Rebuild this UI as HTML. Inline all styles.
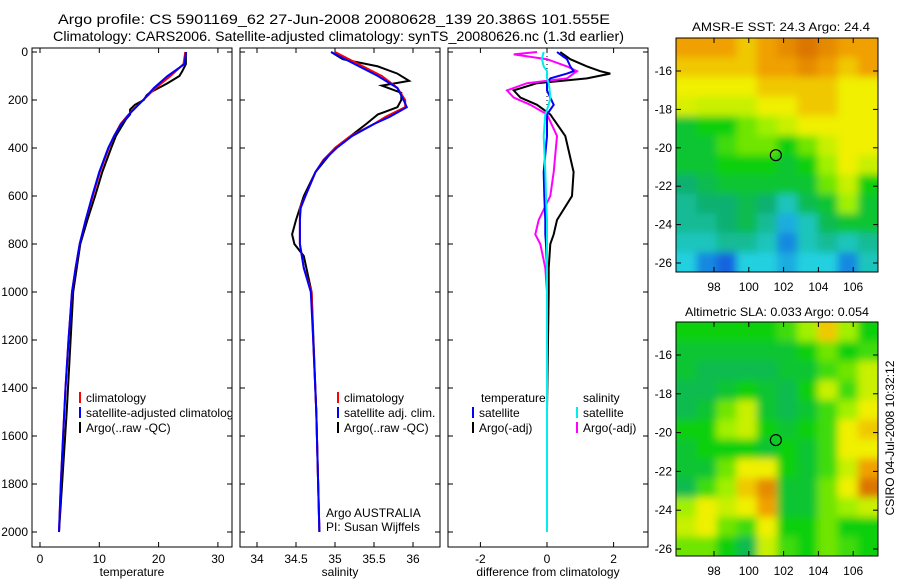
<!DOCTYPE html>
<html><head><meta charset="utf-8"><style>
body{margin:0;background:#fff}
svg{display:block;font-family:"Liberation Sans",sans-serif;font-size:12px}
</style></head><body>
<svg id="s" width="900" height="580" viewBox="0 0 900 580">
<defs>
<clipPath id="c1"><rect x="32" y="48" width="200" height="499"/></clipPath>
<clipPath id="c2"><rect x="240" y="48" width="200" height="499"/></clipPath>
<clipPath id="c3"><rect x="448" y="48" width="200" height="499"/></clipPath>
<clipPath id="m1"><rect x="676" y="38" width="202" height="234"/></clipPath>
<clipPath id="m2"><rect x="676" y="322" width="202" height="234"/></clipPath>
<filter id="bl" filterUnits="userSpaceOnUse" x="640" y="0" width="260" height="580"><feGaussianBlur stdDeviation="4"/></filter>
</defs>
<text x="58" y="24" textLength="552" lengthAdjust="spacingAndGlyphs" style="font-size:14px">Argo profile: CS 5901169_62 27-Jun-2008 20080628_139 20.386S 101.555E</text>
<text x="53" y="41" textLength="571" lengthAdjust="spacingAndGlyphs" style="font-size:14px">Climatology: CARS2006. Satellite-adjusted climatology: synTS_20080626.nc (1.3d earlier)</text>
<g id="g"></g>
<text x="692" y="31" textLength="178" lengthAdjust="spacingAndGlyphs">AMSR-E SST: 24.3 Argo: 24.4</text>
<text x="685" y="316" textLength="184" lengthAdjust="spacingAndGlyphs">Altimetric SLA: 0.033 Argo: 0.054</text>
<text transform="translate(894,438) rotate(-90)" text-anchor="middle">CSIRO 04-Jul-2008 10:32:12</text>
</svg>
<script>
// ---- data ----
const depthClim = [0,50,100,150,200,250,300,350,400,500,600,700,800,900,1000,1200,1400,1600,1800,2000];
const tempClim = [24.5,24.2,22,19.5,17.4,15.3,13.6,12.5,11.6,10.1,8.9,7.7,6.7,6.0,5.4,4.8,4.3,3.9,3.5,3.2];
const tempSat  = [24.6,24.4,21.5,19.2,17.4,15.4,13.7,12.5,11.5,10.0,8.8,7.7,6.7,6.0,5.4,4.8,4.3,3.9,3.5,3.2];
const depthArgoT = [0,50,80,100,130,150,170,180,200,220,240,260,280,350,400,500,600,700,800,1000,1500,2000];
const tempArgo = [24.6,24.6,24,23.5,21.5,20,18.5,18,17.5,16,15.2,15.2,14.5,12.8,12,10.5,9.3,8,6.8,5.6,4.5,3.2];
const depthSal = [0,100,150,200,230,270,300,350,400,450,500,600,650,700,800,900,1000,1200,1500,2000];
const salClim = [35.0,35.6,35.8,35.9,35.9,35.65,35.5,35.2,35.0,34.85,34.75,34.62,34.55,34.55,34.55,34.6,34.7,34.72,34.76,34.8];
const salSat  = [34.95,35.55,35.8,35.88,35.92,35.7,35.5,35.22,35.02,34.86,34.75,34.62,34.56,34.55,34.55,34.6,34.69,34.72,34.76,34.8];
const depthArgoS = [0,30,60,90,120,140,170,200,230,260,300,350,400,500,600,700,760,800,850,1000,1500,2000];
const salArgo = [34.95,35.1,35.55,35.8,35.95,35.6,35.85,35.85,35.8,35.55,35.4,35.2,35.0,34.75,34.6,34.5,34.45,34.48,34.6,34.7,34.76,34.8];
const depthDiff = [0,10,30,60,80,90,110,130,160,190,220,260,350,500,600,700,760,800,900,1000,1500,2000];
const diffTArgo = [0.4,0.5,0.7,1.2,1.6,1.9,1.2,-0.3,-1.0,-0.8,-0.3,0.1,0.55,0.8,0.75,0.3,0.2,0.1,0.05,0.05,0,0];
const diffSArgo = [-0.3,-1.0,0,0.6,0.9,0.8,0.6,-0.6,-1.2,-1.0,-0.5,0,0.3,0.2,0.1,-0.25,-0.35,-0.2,-0.05,0,0,0];
const diffTSat  = [0.3,0.4,0.6,0.7,0.8,0.6,0.1,0,0,0.1,0.2,0,0,-0.1,-0.08,-0.05,-0.05,-0.03,0,0,0,0];
const diffSSat  = [-0.1,-0.12,-0.15,-0.1,0,0,0,0.05,0.08,0.1,0.05,-0.05,-0.1,-0.05,-0.03,0,0,0,0,0,0,0];
const depthTicks = [0,200,400,600,800,1000,1200,1400,1600,1800,2000];
const tempTicks = [0,10,20,30];
const salTicks = [34,34.5,35,35.5,36];
const diffTicks = [-2,0,2];
const lonTicks = [98,100,102,104,106];
const latTicks = [-16,-18,-20,-22,-24,-26];
const sstGrid = [
[.85,.85,.85,.8,.85,.9,.95,.9,.85,.85],
[.8,.8,.8,.8,.85,.85,.9,.85,.8,.85],
[.75,.75,.75,.75,.8,.8,.8,.8,.75,.75],
[.72,.7,.7,.7,.75,.75,.8,.8,.75,.75],
[.45,.5,.5,.6,.65,.7,.75,.75,.75,.75],
[.45,.45,.55,.6,.6,.5,.6,.7,.75,.75],
[.45,.45,.5,.5,.5,.45,.5,.65,.75,.7],
[.35,.4,.45,.45,.45,.45,.45,.6,.7,.5],
[.3,.35,.35,.4,.35,.25,.4,.45,.65,.45],
[.3,.3,.35,.4,.3,.15,.25,.4,.45,.45],
[.25,.25,.3,.3,.25,.1,.25,.3,.25,.3],
[.2,.1,.05,.2,.2,.15,.2,.2,.1,.25]];
const slaGrid = [
[.5,.5,.5,.5,.5,.55,.65,.8,.65,.5],
[.45,.45,.45,.45,.45,.45,.5,.6,.5,.55],
[.45,.4,.4,.4,.4,.45,.45,.55,.6,.7],
[.4,.4,.45,.5,.45,.4,.5,.7,.55,.7],
[.4,.45,.6,.7,.45,.4,.45,.55,.65,.75],
[.5,.5,.65,.7,.5,.45,.5,.55,.75,.8],
[.45,.5,.5,.5,.45,.5,.45,.55,.75,.75],
[.45,.45,.6,.75,.75,.5,.45,.55,.7,.85],
[.4,.55,.65,.8,.9,.45,.45,.6,.75,.95],
[.65,.75,.7,.75,.85,.45,.45,.6,.65,.7],
[.7,.75,.6,.55,.75,.5,.5,.6,.5,.5],
[.6,.6,.5,.4,.7,.55,.5,.6,.55,.5]];
const argoLon = 101.555, argoLat = -20.386;

// ---- scales ----
const yD = d => 52 + d*0.24;
const xT = v => 40 + v*5.93;
const xS = v => 296 + (v-34.5)*78;
const xF = v => 547 + v*33.3;
const xLon = v => 714 + (v-98)*17.4;
const yLat1 = v => 71 + (-16 - v)*19.2;
const yLat2 = v => 355 + (-16 - v)*19.4;

const NS='http://www.w3.org/2000/svg', G=document.getElementById('g');
function mk(t,a,p){const e=document.createElementNS(NS,t);for(const k in a)e.setAttribute(k,a[k]);(p||G).appendChild(e);return e;}
function line(xs,ys,fx,col,clip,name,w){
  const pts=xs.map((v,i)=>fx(v).toFixed(1)+','+yD(ys[i]).toFixed(1)).join(' ');
  const e=mk('polyline',{points:pts,fill:'none',stroke:col,'stroke-width':w||2,'clip-path':'url(#'+clip+')'});
  
  
}
function txt(x,y,s,anchor,name){const e=mk('text',{x:x,y:y,'text-anchor':anchor||'start'});e.textContent=s;
  
  
  return e;}
function panel(x0,name,ticks,fx,fmt,xlabel,leftLabels){
  const r=mk('rect',{x:x0,y:48,width:200,height:499,fill:'#fff',stroke:'#000'});
  
  
  depthTicks.forEach(d=>{const y=yD(d);
    mk('line',{x1:x0,x2:x0+5,y1:y,y2:y,stroke:'#000'});mk('line',{x1:x0+195,x2:x0+200,y1:y,y2:y,stroke:'#000'});
    if(leftLabels)txt(x0-4,y+4,String(d),'end','depth-tick-label');});
  ticks.forEach(v=>{const x=fx(v);
    mk('line',{x1:x,x2:x,y1:547,y2:542,stroke:'#000'});mk('line',{x1:x,x2:x,y1:48,y2:53,stroke:'#000'});
    txt(x,563,fmt(v),'middle',name+'-tick-label');});
  txt(x0+100,576,xlabel,'middle',name+'-x-axis-title');
}
panel(32,'temperature-panel',tempTicks,xT,v=>String(v),'temperature',true);
panel(240,'salinity-panel',salTicks,xS,v=>String(v),'salinity',false);
panel(448,'difference-panel',diffTicks,xF,v=>String(v),'difference from climatology',false);

line(tempArgo,depthArgoT,xT,'#000','c1','temp-argo-line');
line(tempClim,depthClim,xT,'#f00','c1','temp-climatology-line');
line(tempSat,depthClim,xT,'#00f','c1','temp-satellite-line');
line(salArgo,depthArgoS,xS,'#000','c2','sal-argo-line');
line(salClim,depthSal,xS,'#f00','c2','sal-climatology-line');
line(salSat,depthSal,xS,'#00f','c2','sal-satellite-line');
const z=mk('line',{x1:xF(0),x2:xF(0),y1:48,y2:yD(230),stroke:'#000','stroke-dasharray':'1,3'});


line(diffTArgo,depthDiff,xF,'#000','c3','diff-temp-argo-line');
line(diffSArgo,depthDiff,xF,'#f0f','c3','diff-sal-argo-line');
line(diffTSat,depthDiff,xF,'#00f','c3','diff-temp-satellite-line');
line(diffSSat,depthDiff,xF,'#0ee','c3','diff-sal-satellite-line');

function leg(x,y,col,s,clip,name){
  const g=mk('g',{'clip-path':clip?'url(#'+clip+')':''});
  
  
  if(col)mk('line',{x1:x,x2:x,y1:y-10,y2:y+1,stroke:col,'stroke-width':2},g);
  const t=mk('text',{x:x+6,y:y},g);t.textContent=s;
}
leg(80,402,'#f00','climatology','c1','legend-climatology');
leg(80,417,'#00f','satellite-adjusted climatology','c1','legend-satellite');
leg(80,432,'#000','Argo(..raw -QC)','c1','legend-argo');
leg(338,402,'#f00','climatology','c2','legend-climatology');
leg(338,417,'#00f','satellite adj. clim.','c2','legend-satellite');
leg(338,432,'#000','Argo(..raw -QC)','c2','legend-argo');
leg(475,402,null,'temperature','c3','legend-temperature-header');
leg(577,402,null,'salinity','c3','legend-salinity-header');
leg(473,417,'#00f','satellite','c3','legend-temp-satellite');
leg(473,432,'#000','Argo(-adj)','c3','legend-temp-argo');
leg(577,417,'#0ee','satellite','c3','legend-sal-satellite');
leg(577,432,'#f0f','Argo(-adj)','c3','legend-sal-argo');
txt(326,517,'Argo AUSTRALIA','start','float-owner-label');
txt(326,531,'PI: Susan Wijffels','start','principal-investigator-label');

// ---- maps ----
const stops=[[0,[16,64,224]],[.2,[32,208,224]],[.35,[16,176,112]],[.5,[16,208,16]],[.65,[160,240,0]],[.75,[240,240,0]],[.85,[240,160,0]],[1,[208,96,0]]];
function cmap(v){for(let i=1;i<stops.length;i++)if(v<=stops[i][0]){const a=stops[i-1],b=stops[i],t=(v-a[0])/(b[0]-a[0]);
  return 'rgb('+a[1].map((c,k)=>Math.round(c+(b[1][k]-c)*t)).join(',')+')';}return 'rgb(208,96,0)';}
function map(y0,grid,clip,fy,name){
  const g=mk('g',{'clip-path':'url(#'+clip+')'});
  
  
  const inner=mk('g',{filter:'url(#bl)'},g);
  const rows=grid.length,cols=grid[0].length,cw=202/cols,ch=234/rows;
  grid.forEach((row,r)=>row.forEach((v,c)=>{
    let x=676+c*cw,y=y0+r*ch,w=cw+0.5,h=ch+0.5;
    if(c==0){x-=12;w+=12;} if(c==cols-1)w+=12; if(r==0){y-=12;h+=12;} if(r==rows-1)h+=12;
    mk('rect',{x:x,y:y,width:w,height:h,fill:cmap(v)},inner);}));
  const fr=mk('rect',{x:676,y:y0,width:202,height:234,fill:'none',stroke:'#000'});
  
  
  lonTicks.forEach(v=>{const x=xLon(v);mk('line',{x1:x,x2:x,y1:y0+234,y2:y0+229,stroke:'#000'});mk('line',{x1:x,x2:x,y1:y0,y2:y0+5,stroke:'#000'});
    txt(x,y0+253,String(v),'middle',name+'-lon-tick-label');});
  latTicks.forEach(v=>{const y=fy(v);mk('line',{x1:676,x2:681,y1:y,y2:y,stroke:'#000'});mk('line',{x1:873,x2:878,y1:y,y2:y,stroke:'#000'});
    txt(672,y+4,String(v),'end',name+'-lat-tick-label');});
  const c=mk('circle',{cx:xLon(argoLon),cy:fy(argoLat),r:5.5,fill:'none',stroke:'#000','stroke-width':1.2});
  
  
}
map(38,sstGrid,'m1',yLat1,'sst-map');
map(322,slaGrid,'m2',yLat2,'sla-map');
</script>
</body></html>
